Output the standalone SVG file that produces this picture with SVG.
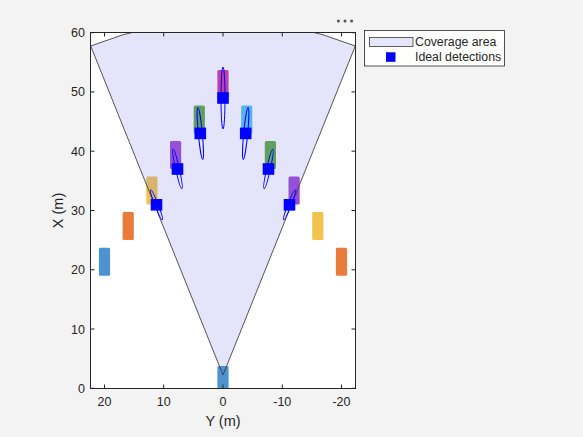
<svg xmlns="http://www.w3.org/2000/svg" width="583" height="437" viewBox="0 0 583 437">
<style>
text{font-family:"Liberation Sans",Arial,sans-serif;fill:#262626}
.tl{font-size:12.5px}
.tlx{font-size:12.5px;text-anchor:middle}
.tly{font-size:12.5px;text-anchor:end}
.lab{font-size:14.5px;text-anchor:middle}
.leg{font-size:12.3px}
.car{rx:1.5px;ry:1.5px}
.tick{stroke:#262626;stroke-width:1}
.ell{fill:none;stroke:#0000ff;stroke-width:1}
.det{fill:#0000ff}
</style>
<defs>
<clipPath id="plot"><rect x="90.5" y="32.5" width="265" height="356"/></clipPath>
</defs>
<rect x="0" y="0" width="583" height="437" fill="#f3f3f3"/>
<rect x="90.5" y="32.5" width="265" height="356" fill="#ffffff"/>
<g id="plot-content" clip-path="url(#plot)">
<g id="vehicles">
<rect class="car" x="98.9" y="247.7" width="11.2" height="28" fill="#4c93cf"/>
<rect class="car" x="122.6" y="212.1" width="11.2" height="28" fill="#e97b3b"/>
<rect class="car" x="146.3" y="176.6" width="11.2" height="28" fill="#f2c34f"/>
<rect class="car" x="170" y="141" width="11.2" height="28" fill="#9b48d4"/>
<rect class="car" x="193.7" y="105.4" width="11.2" height="28" fill="#59aa3d"/>
<rect class="car" x="217.4" y="69.9" width="11.2" height="28" fill="#d23299"/>
<rect class="car" x="241.1" y="105.4" width="11.2" height="28" fill="#50c3ed"/>
<rect class="car" x="264.8" y="141" width="11.2" height="28" fill="#59aa3d"/>
<rect class="car" x="288.5" y="176.6" width="11.2" height="28" fill="#9b48d4"/>
<rect class="car" x="312.2" y="212.1" width="11.2" height="28" fill="#f2c34f"/>
<rect class="car" x="335.9" y="247.7" width="11.2" height="28" fill="#e97b3b"/>
<rect id="ego" class="car" x="217.4" y="366" width="11.2" height="28" fill="#4c93cf"/>
</g>
<g id="coverage">
<path d="M223,375 L90.7,46 A354.6,354.6 0 0 1 355.3,46 Z" fill="#7878e6" fill-opacity="0.2" stroke="#3a3a3a" stroke-opacity="0.85" stroke-width="1"/>
</g>
<g id="detections">
<ellipse class="ell" cx="223" cy="98" rx="2" ry="31"/>
<ellipse class="ell" cx="200.3" cy="133.4" rx="2" ry="26" transform="rotate(-5.4 200.3 133.4)"/>
<ellipse class="ell" cx="245.7" cy="133.4" rx="2" ry="26" transform="rotate(5.4 245.7 133.4)"/>
<ellipse class="ell" cx="177.5" cy="169" rx="1.8" ry="20" transform="rotate(-12.5 177.5 169)"/>
<ellipse class="ell" cx="268.5" cy="169" rx="1.8" ry="20" transform="rotate(12.5 268.5 169)"/>
<ellipse class="ell" cx="156.5" cy="204.8" rx="1.6" ry="16" transform="rotate(-21.3 156.5 204.8)"/>
<ellipse class="ell" cx="289.5" cy="204.8" rx="1.6" ry="16" transform="rotate(21.3 289.5 204.8)"/>
<rect class="det" x="217.2" y="92.2" width="11.6" height="11.6"/>
<rect class="det" x="194.5" y="127.6" width="11.6" height="11.6"/>
<rect class="det" x="239.9" y="127.6" width="11.6" height="11.6"/>
<rect class="det" x="171.7" y="163.2" width="11.6" height="11.6"/>
<rect class="det" x="262.7" y="163.2" width="11.6" height="11.6"/>
<rect class="det" x="150.7" y="199" width="11.6" height="11.6"/>
<rect class="det" x="283.7" y="199" width="11.6" height="11.6"/>
</g>
</g>
<g id="axes">
<rect x="90.5" y="32.5" width="265" height="356" fill="none" stroke="#262626" stroke-width="1"/>
<path class="tick" d="M90.5,388.3h4M90.5,329h4M90.5,269.8h4M90.5,210.5h4M90.5,151.2h4M90.5,91.9h4M90.5,32.7h4
M355.5,388.3h-4M355.5,329h-4M355.5,269.8h-4M355.5,210.5h-4M355.5,151.2h-4M355.5,91.9h-4M355.5,32.7h-4
M104.5,388.5v-4M163.7,388.5v-4M223,388.5v-4M282.3,388.5v-4M341.5,388.5v-4
M104.5,32.5v4M163.7,32.5v4M223,32.5v4M282.3,32.5v4M341.5,32.5v4"/>
<text class="tly" x="85" y="392.8">0</text>
<text class="tly" x="85" y="333.5">10</text>
<text class="tly" x="85" y="274.3">20</text>
<text class="tly" x="85" y="215">30</text>
<text class="tly" x="85" y="155.7">40</text>
<text class="tly" x="85" y="96.4">50</text>
<text class="tly" x="85" y="37.2">60</text>
<text class="tlx" x="104.5" y="406">20</text>
<text class="tlx" x="163.7" y="406">10</text>
<text class="tlx" x="223" y="406">0</text>
<text class="tlx" x="282.3" y="406">-10</text>
<text class="tlx" x="341.5" y="406">-20</text>
<text class="lab" x="223" y="425.5">Y (m)</text>
<text class="lab" transform="translate(62.5 210.5) rotate(-90)">X (m)</text>
</g>
<g id="legend">
<rect x="364.5" y="30.5" width="140" height="35.5" fill="#ffffff" stroke="#262626" stroke-width="0.8"/>
<rect x="369.5" y="37.5" width="43.5" height="9" fill="#e4e4fa" stroke="#3a3a3a" stroke-width="0.8"/>
<text class="leg" x="415" y="46.3">Coverage area</text>
<rect class="det" x="386" y="52.3" width="9.5" height="9.5"/>
<text class="leg" x="415" y="61.3">Ideal detections</text>
</g>
<g id="toolbar" fill="#555555">
<circle cx="338.4" cy="21" r="1.5"/>
<circle cx="345" cy="21" r="1.5"/>
<circle cx="351.6" cy="21" r="1.5"/>
</g>
</svg>
